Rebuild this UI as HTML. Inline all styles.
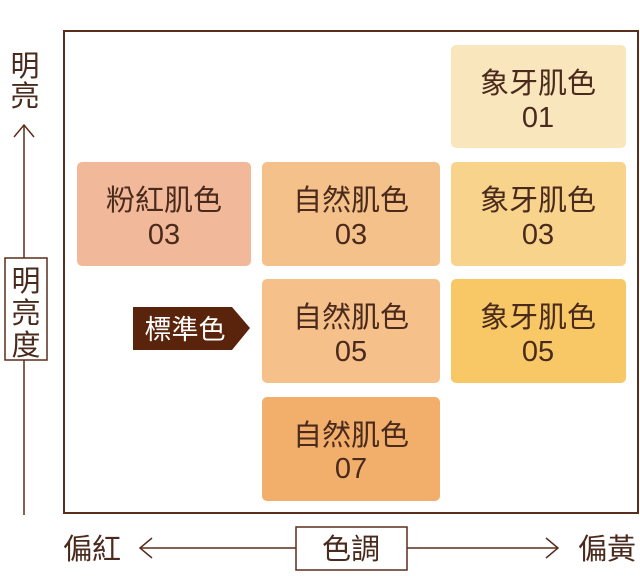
<!DOCTYPE html>
<html><head><meta charset="utf-8"><style>
body{margin:0;background:#fff;}
svg text{font-family:"Liberation Sans","Noto Sans CJK TC",sans-serif;}
</style></head><body>
<svg width="640" height="573" viewBox="0 0 640 573" xmlns="http://www.w3.org/2000/svg">
<rect x="64" y="31" width="574" height="482" fill="none" stroke="#5a2e1c" stroke-width="2"/>
<g font-size="29" fill="#4a2a1c" text-anchor="middle">
<rect x="451" y="45" width="175" height="103" rx="5" fill="#fae6bd"/>
<text x="538" y="93">象牙肌色</text><text x="538" y="127">01</text>
<rect x="77" y="162" width="174" height="104" rx="5" fill="#f2b89a"/>
<text x="164" y="210">粉紅肌色</text><text x="164" y="244">03</text>
<rect x="262" y="162" width="178" height="104" rx="5" fill="#f5c18a"/>
<text x="351" y="210">自然肌色</text><text x="351" y="244">03</text>
<rect x="451" y="162" width="175" height="104" rx="5" fill="#f8d38c"/>
<text x="538" y="210">象牙肌色</text><text x="538" y="244">03</text>
<rect x="262" y="279" width="178" height="104" rx="5" fill="#f5c08a"/>
<text x="351" y="327">自然肌色</text><text x="351" y="361">05</text>
<rect x="451" y="279" width="175" height="104" rx="5" fill="#f7c865"/>
<text x="538" y="327">象牙肌色</text><text x="538" y="361">05</text>
<rect x="262" y="397" width="178" height="104" rx="5" fill="#f1af6b"/>
<text x="351" y="445">自然肌色</text><text x="351" y="478">07</text>
</g>
<polygon points="133,307 232,307 250,328 232,350 133,350" fill="#5a240c"/>
<text x="185" y="339" font-size="27" fill="#fff" text-anchor="middle">標準色</text>
<g stroke="#5a2e1c" stroke-width="1.5" fill="none">
<line x1="24" y1="125" x2="24" y2="258"/><line x1="24" y1="360" x2="24" y2="515"/>
<polyline points="14,137 24,125 34,137"/>
<rect x="5" y="258" width="42" height="102" fill="#fff"/>
<line x1="140" y1="548" x2="296" y2="548"/><line x1="407" y1="548" x2="558" y2="548"/>
<polyline points="152,538 140,548 152,558"/>
<polyline points="546,538 558,548 546,558"/>
<rect x="296" y="527" width="111" height="43" fill="#fff"/>
</g>
<g font-size="29" fill="#4a2a1c" text-anchor="middle">
<text x="25" y="76">明</text><text x="25" y="106">亮</text>
<text x="26" y="291">明</text><text x="26" y="323">亮</text><text x="26" y="355">度</text>
<text x="92" y="559">偏紅</text><text x="351" y="559">色調</text><text x="607" y="559">偏黃</text>
</g>
</svg>
</body></html>
